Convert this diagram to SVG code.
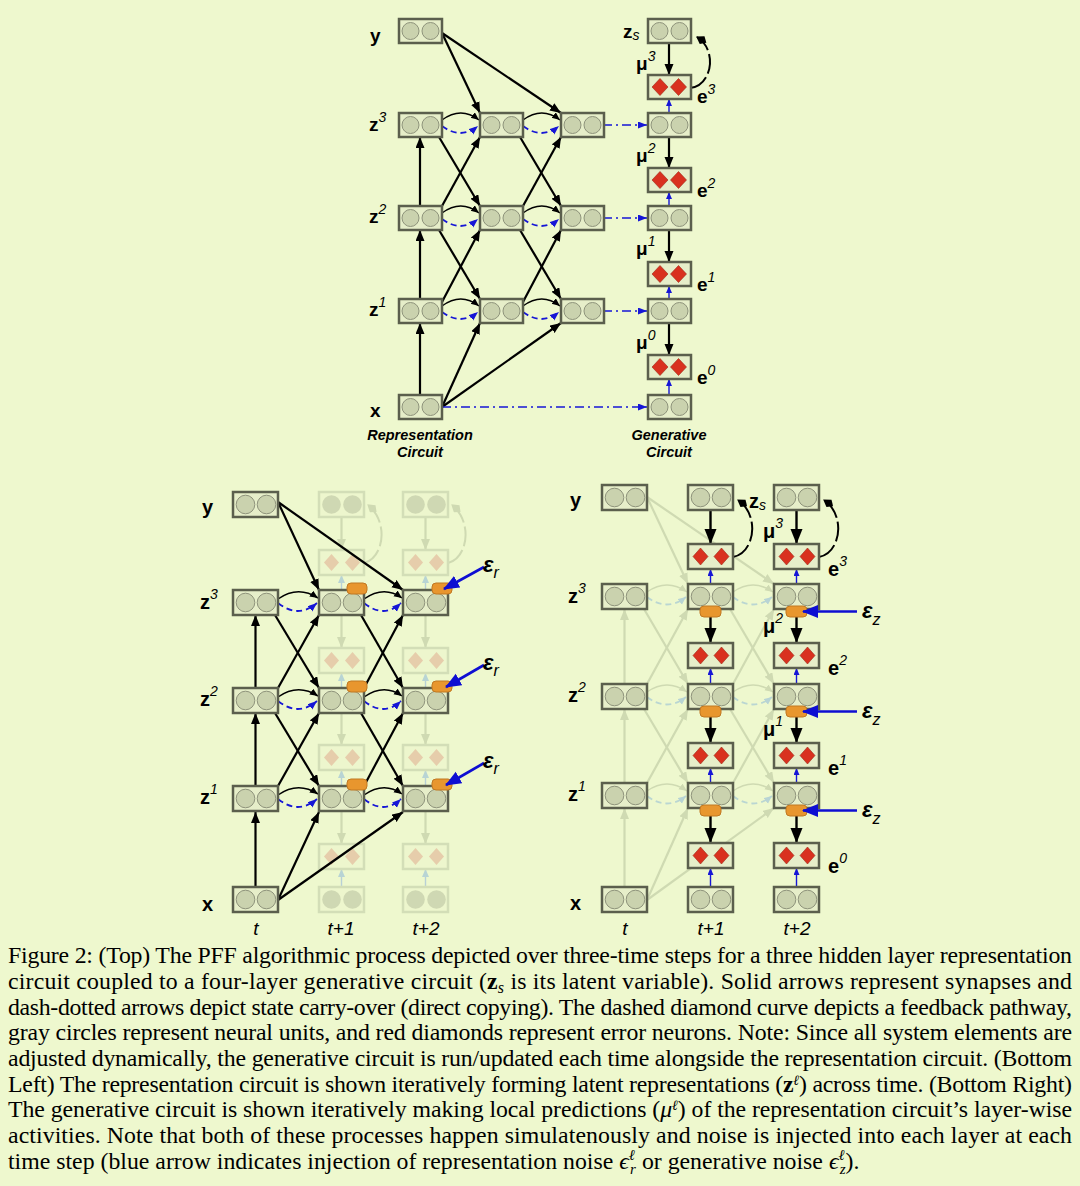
<svg xmlns="http://www.w3.org/2000/svg" width="1080" height="1186" viewBox="0 0 1080 1186">
<style>
.bx{fill:#E6EEC9;stroke:#5B5F4D;stroke-width:2.5}
.cu{fill:#CAD2AE;stroke:#8E937B;stroke-width:1}
.dm{fill:#D9311F;stroke:#9E2A18;stroke-width:0.6}
.fbx{fill:#EDF6CD;stroke:#D3DEB7;stroke-width:2.5}
.fcu{fill:#CFD8B3}
.fdm{fill:#E6CDAB}
.pad{fill:#E8962E;stroke:#C07822;stroke-width:1}
.ar{stroke:#000;stroke-width:2.2;fill:none;marker-end:url(#ah)}
.arB{stroke:#000;stroke-width:2.4;fill:none;marker-end:url(#ahB)}
.ab{stroke:#1616D6;stroke-width:1.4;fill:none;marker-end:url(#abs)}
.dd{stroke:#1616D6;stroke-width:1.6;fill:none;stroke-dasharray:9 4 2 4;marker-end:url(#abd)}
.cs{stroke:#000;stroke-width:1.5;fill:none;marker-end:url(#ahs)}
.cd{stroke:#1616D6;stroke-width:1.8;fill:none;stroke-dasharray:6 4;marker-end:url(#abd)}
.fb{stroke:#000;stroke-width:2;fill:none;stroke-dasharray:20 4;marker-end:url(#dia)}
.nz{stroke:#0E0ED2;stroke-width:2.6;fill:none;marker-end:url(#abig)}
.fa{stroke:#CFDAB2;stroke-width:2.2;fill:none;marker-end:url(#fah)}
.fcs{stroke:#CFDAB2;stroke-width:1.5;fill:none;marker-end:url(#fahs)}
.fcd{stroke:#BAD6D2;stroke-width:1.8;fill:none;stroke-dasharray:6 4;marker-end:url(#fabs)}
.fab{stroke:#B8D0D6;stroke-width:1.4;fill:none;marker-end:url(#fabs)}
.ffb{stroke:#CFDAB2;stroke-width:2;fill:none;stroke-dasharray:20 4;marker-end:url(#fdia)}
.lb{font-family:"Liberation Sans",Arial,sans-serif;font-weight:700;font-size:19px;fill:#000}
.lbB{font-size:20px}
.sp{font-style:italic;font-weight:400;font-size:14px}
.ci{font-family:"Liberation Sans",Arial,sans-serif;font-weight:700;font-style:italic;font-size:14.5px;text-anchor:middle}
.tm{font-family:"Liberation Sans",Arial,sans-serif;font-style:italic;font-size:19px;text-anchor:middle}
.eps{font-family:"Liberation Sans",Arial,sans-serif;font-weight:700;font-style:italic;font-size:22px}
.esb{font-weight:400;font-size:16px}
.cap{font-family:"Liberation Serif","DejaVu Serif",serif;font-size:23.8px;fill:#000}
</style>
<defs>
<marker id="ah" markerUnits="userSpaceOnUse" markerWidth="12" markerHeight="10" refX="11" refY="4.5" orient="auto"><path d="M0,0 L11,4.5 L0,9 z" fill="#000"/></marker>
<marker id="ahs" markerUnits="userSpaceOnUse" markerWidth="10" markerHeight="8" refX="8" refY="3.5" orient="auto"><path d="M0,0 L8,3.5 L0,7 z" fill="#000"/></marker>
<marker id="ahB" markerUnits="userSpaceOnUse" markerWidth="16" markerHeight="13" refX="15" refY="6" orient="auto"><path d="M0,0 L15,6 L0,12 z" fill="#000"/></marker>
<marker id="abs" markerUnits="userSpaceOnUse" markerWidth="8" markerHeight="7" refX="7" refY="3" orient="auto"><path d="M0,0 L7,3 L0,6 z" fill="#1616D6"/></marker>
<marker id="abd" markerUnits="userSpaceOnUse" markerWidth="10" markerHeight="8" refX="9" refY="3.5" orient="auto"><path d="M0,0 L9,3.5 L0,7 z" fill="#1616D6"/></marker>
<marker id="abig" markerUnits="userSpaceOnUse" markerWidth="17" markerHeight="14" refX="15" refY="6.5" orient="auto"><path d="M0,0 L16,6.5 L0,13 z" fill="#0E0ED2"/></marker>
<marker id="dia" markerUnits="userSpaceOnUse" markerWidth="13" markerHeight="10" refX="11" refY="4.5" orient="auto"><path d="M0,4.5 L5,0 L12,4.5 L5,9 z" fill="#000"/></marker>
<marker id="fah" markerUnits="userSpaceOnUse" markerWidth="12" markerHeight="10" refX="11" refY="4.5" orient="auto"><path d="M0,0 L11,4.5 L0,9 z" fill="#CFDAB2"/></marker>
<marker id="fahs" markerUnits="userSpaceOnUse" markerWidth="10" markerHeight="8" refX="8" refY="3.5" orient="auto"><path d="M0,0 L8,3.5 L0,7 z" fill="#CFDAB2"/></marker>
<marker id="fabs" markerUnits="userSpaceOnUse" markerWidth="10" markerHeight="8" refX="8" refY="3.5" orient="auto"><path d="M0,0 L8,3.5 L0,7 z" fill="#B8D4D4"/></marker>
<marker id="fdia" markerUnits="userSpaceOnUse" markerWidth="13" markerHeight="10" refX="11" refY="4.5" orient="auto"><path d="M0,4.5 L5,0 L12,4.5 L5,9 z" fill="#CFDAB2"/></marker>
<g id="uT"><rect width="43" height="24" class="bx"/><circle cx="11.5" cy="12" r="8.5" class="cu"/><circle cx="31.5" cy="12" r="8.5" class="cu"/></g>
<g id="eT"><rect width="43" height="24" class="bx"/><polygon points="12,3.5 20,12 12,20.5 4,12" class="dm"/><polygon points="30.5,3.5 38.5,12 30.5,20.5 22.5,12" class="dm"/></g>
<g id="uB"><rect width="45" height="25" class="bx"/><circle cx="12.5" cy="12.5" r="9.3" class="cu"/><circle cx="33.5" cy="12.5" r="9.3" class="cu"/></g>
<g id="eB"><rect width="45" height="25" class="bx"/><polygon points="12.5,4 20,12.5 12.5,21 5,12.5" class="dm"/><polygon points="33.5,4 41,12.5 33.5,21 26,12.5" class="dm"/></g>
<g id="fuB"><rect width="45" height="25" class="fbx"/><circle cx="12.5" cy="12.5" r="9.3" class="fcu"/><circle cx="33.5" cy="12.5" r="9.3" class="fcu"/></g>
<g id="feB"><rect width="45" height="25" class="fbx"/><polygon points="12.5,4 20,12.5 12.5,21 5,12.5" class="fdm"/><polygon points="33.5,4 41,12.5 33.5,21 26,12.5" class="fdm"/></g>
</defs>
<rect width="1080" height="1186" fill="#EEF8CE"/>

<g id="faded-connectors">
<path class="fa" d="M341.5,517 L341.5,550"/><path class="fa" d="M425.5,517 L425.5,550"/>
<path class="fa" d="M341.5,615 L341.5,648"/><path class="fa" d="M425.5,615 L425.5,648"/>
<path class="fa" d="M341.5,713 L341.5,745"/><path class="fa" d="M425.5,713 L425.5,745"/>
<path class="fa" d="M341.5,811 L341.5,844"/><path class="fa" d="M425.5,811 L425.5,844"/>
<path class="fab" d="M341.5,590 L341.5,575"/><path class="fab" d="M425.5,590 L425.5,575"/>
<path class="fab" d="M341.5,688 L341.5,673"/><path class="fab" d="M425.5,688 L425.5,673"/>
<path class="fab" d="M341.5,786 L341.5,770"/><path class="fab" d="M425.5,786 L425.5,770"/>
<path class="fab" d="M341.5,887 L341.5,869"/><path class="fab" d="M425.5,887 L425.5,869"/>
<path class="ffb" d="M364,563 C384,558 389,522 368,505"/><path class="ffb" d="M448,563 C468,558 473,522 452,505"/>

<path class="fa" d="M647,497 L688,584"/><path class="fa" d="M647,497 L774,584"/>
<path class="fa" d="M624.5,684 L624.5,609"/><path class="fa" d="M624.5,783 L624.5,709"/><path class="fa" d="M624.5,887 L624.5,808"/>
<path class="fa" d="M644,609 L688,684"/><path class="fa" d="M647,684 L688,609"/>
<path class="fa" d="M644,709 L688,783"/><path class="fa" d="M647,783 L688,709"/>
<path class="fa" d="M730,609 L774,684"/><path class="fa" d="M733,684 L774,609"/>
<path class="fa" d="M730,709 L774,783"/><path class="fa" d="M733,783 L774,709"/>
<path class="fa" d="M647,900 L688,808"/><path class="fa" d="M647,900 L774,808"/>
<path class="fcs" d="M647,592 Q667,578 687,592"/><path class="fcs" d="M733,592 Q753,578 773,592"/>
<path class="fcs" d="M647,692 Q667,678 687,692"/><path class="fcs" d="M733,692 Q753,678 773,692"/>
<path class="fcs" d="M647,791 Q667,777 687,791"/><path class="fcs" d="M733,791 Q753,777 773,791"/>
<path class="fcd" d="M647,597 Q667,612 686,597"/><path class="fcd" d="M733,597 Q753,612 772,597"/>
<path class="fcd" d="M647,697 Q667,712 686,697"/><path class="fcd" d="M733,697 Q753,712 772,697"/>
<path class="fcd" d="M647,796 Q667,811 686,796"/><path class="fcd" d="M733,796 Q753,811 772,796"/>
</g>

<g id="faded-nodes">
<g id="bl-f-top2"><use href="#fuB" x="319" y="492"/></g><g id="bl-f-top3"><use href="#fuB" x="403" y="492"/></g>
<g id="bl-f-e3-2"><use href="#feB" x="319" y="550"/></g><g id="bl-f-e3-3"><use href="#feB" x="403" y="550"/></g>
<g id="bl-f-e2-2"><use href="#feB" x="319" y="648"/></g><g id="bl-f-e2-3"><use href="#feB" x="403" y="648"/></g>
<g id="bl-f-e1-2"><use href="#feB" x="319" y="745"/></g><g id="bl-f-e1-3"><use href="#feB" x="403" y="745"/></g>
<g id="bl-f-e0-2"><use href="#feB" x="319" y="844"/></g><g id="bl-f-e0-3"><use href="#feB" x="403" y="844"/></g>
<g id="bl-f-x2"><use href="#fuB" x="319" y="887"/></g><g id="bl-f-x3"><use href="#fuB" x="403" y="887"/></g>
</g>

<g id="connectors">
<path class="ar" d="M442,33 L480,113"/><path class="ar" d="M442,33 L561,113"/>
<path class="ar" d="M420,206 L420,137"/><path class="ar" d="M420,299 L420,230"/><path class="ar" d="M420,395 L420,323"/>
<path class="ar" d="M439,137 L480,206"/><path class="ar" d="M442,206 L480,137"/>
<path class="ar" d="M439,230 L480,299"/><path class="ar" d="M442,302 L480,230"/>
<path class="ar" d="M520,137 L561,206"/><path class="ar" d="M523,206 L561,137"/>
<path class="ar" d="M520,230 L561,299"/><path class="ar" d="M523,302 L561,230"/>
<path class="ar" d="M442,407 L480,323"/><path class="ar" d="M442,407 L561,323"/>
<path class="cs" d="M442,120 Q461,106 479,120"/><path class="cs" d="M523,120 Q542,106 560,120"/>
<path class="cs" d="M442,213 Q461,199 479,213"/><path class="cs" d="M523,213 Q542,199 560,213"/>
<path class="cs" d="M442,306 Q461,292 479,306"/><path class="cs" d="M523,306 Q542,292 560,306"/>
<path class="cd" d="M442,126 Q461,140 478,126"/><path class="cd" d="M523,126 Q542,140 559,126"/>
<path class="cd" d="M442,219 Q461,233 478,219"/><path class="cd" d="M523,219 Q542,233 559,219"/>
<path class="cd" d="M442,312 Q461,326 478,312"/><path class="cd" d="M523,312 Q542,326 559,312"/>
<path class="dd" d="M603,125 L647,125"/><path class="dd" d="M603,218 L647,218"/><path class="dd" d="M603,311 L647,311"/><path class="dd" d="M442,407 L647,407"/>
<path class="ar" d="M669,43 L669,75"/><path class="ar" d="M669,137 L669,168"/><path class="ar" d="M669,230 L669,262"/><path class="ar" d="M669,323 L669,355"/>
<path class="ab" d="M669,113 L669,99"/><path class="ab" d="M669,206 L669,192"/><path class="ab" d="M669,299 L669,286"/><path class="ab" d="M669,395 L669,379"/>
<path class="fb" d="M690,88 C712,86 718,50 697,37"/>
<path class="ar" d="M278,502 L319,590"/><path class="ar" d="M278,502 L403,590"/>
<path class="ar" d="M255.5,688 L255.5,615"/><path class="ar" d="M255.5,786 L255.5,713"/><path class="ar" d="M255.5,887 L255.5,812"/>
<path class="ar" d="M275,615 L319,688"/><path class="ar" d="M278,688 L319,615"/>
<path class="ar" d="M275,713 L319,786"/><path class="ar" d="M278,786 L319,713"/>
<path class="ar" d="M361,615 L403,688"/><path class="ar" d="M364,688 L403,615"/>
<path class="ar" d="M361,713 L403,786"/><path class="ar" d="M364,786 L403,713"/>
<path class="ar" d="M278,900 L319,812"/><path class="ar" d="M278,900 L403,812"/>
<path class="cs" d="M278,599 Q298,585 318,598"/><path class="cs" d="M364,599 Q384,585 402,598"/>
<path class="cs" d="M278,697 Q298,683 318,696"/><path class="cs" d="M364,697 Q384,683 402,696"/>
<path class="cs" d="M278,795 Q298,781 318,794"/><path class="cs" d="M364,795 Q384,781 402,794"/>
<path class="cd" d="M278,603 Q298,619 317,603"/><path class="cd" d="M364,603 Q384,619 401,603"/>
<path class="cd" d="M278,701 Q298,717 317,701"/><path class="cd" d="M364,701 Q384,717 401,701"/>
<path class="cd" d="M278,799 Q298,815 317,799"/><path class="cd" d="M364,799 Q384,815 401,799"/>
<path class="arB" d="M710.5,510 L710.5,544"/><path class="arB" d="M796.5,510 L796.5,544"/>
<path class="arB" d="M710.5,617 L710.5,643"/><path class="arB" d="M796.5,617 L796.5,643"/>
<path class="arB" d="M710.5,717 L710.5,743"/><path class="arB" d="M796.5,717 L796.5,743"/>
<path class="arB" d="M710.5,816 L710.5,843"/><path class="arB" d="M796.5,816 L796.5,843"/>
<path class="ab" d="M710.5,584 L710.5,569"/><path class="ab" d="M796.5,584 L796.5,569"/>
<path class="ab" d="M710.5,684 L710.5,668"/><path class="ab" d="M796.5,684 L796.5,668"/>
<path class="ab" d="M710.5,783 L710.5,768"/><path class="ab" d="M796.5,783 L796.5,768"/>
<path class="ab" d="M710.5,887 L710.5,868"/><path class="ab" d="M796.5,887 L796.5,868"/>
<path class="fb" d="M733,557 C755,553 760,515 738,500"/><path class="fb" d="M819,557 C841,553 846,515 824,500"/>
</g>

<g id="nodes">
<g id="top-y"><use href="#uT" x="399" y="19"/></g>
<g id="top-z3-t0"><use href="#uT" x="399" y="113"/></g><g id="top-z3-t1"><use href="#uT" x="480" y="113"/></g><g id="top-z3-t2"><use href="#uT" x="561" y="113"/></g>
<g id="top-z2-t0"><use href="#uT" x="399" y="206"/></g><g id="top-z2-t1"><use href="#uT" x="480" y="206"/></g><g id="top-z2-t2"><use href="#uT" x="561" y="206"/></g>
<g id="top-z1-t0"><use href="#uT" x="399" y="299"/></g><g id="top-z1-t1"><use href="#uT" x="480" y="299"/></g><g id="top-z1-t2"><use href="#uT" x="561" y="299"/></g>
<g id="top-x"><use href="#uT" x="399" y="395"/></g>
<g id="top-zs"><use href="#uT" x="648" y="19"/></g>
<g id="top-e3"><use href="#eT" x="648" y="75"/></g>
<g id="top-g3"><use href="#uT" x="648" y="113"/></g>
<g id="top-e2"><use href="#eT" x="648" y="168"/></g>
<g id="top-g2"><use href="#uT" x="648" y="206"/></g>
<g id="top-e1"><use href="#eT" x="648" y="262"/></g>
<g id="top-g1"><use href="#uT" x="648" y="299"/></g>
<g id="top-e0"><use href="#eT" x="648" y="355"/></g>
<g id="top-g0"><use href="#uT" x="648" y="395"/></g>

<g id="bl-y"><use href="#uB" x="233" y="492"/></g>
<g id="bl-z3-t"><use href="#uB" x="233" y="590"/></g>
<g id="bl-z3-t1"><use href="#uB" x="319" y="590"/><rect class="pad" x="347" y="583" width="20" height="11" rx="4"/></g>
<g id="bl-z3-t2"><use href="#uB" x="403" y="590"/><rect class="pad" x="432" y="583" width="20" height="11" rx="4"/></g>
<g id="bl-z2-t"><use href="#uB" x="233" y="688"/></g>
<g id="bl-z2-t1"><use href="#uB" x="319" y="688"/><rect class="pad" x="347" y="681" width="20" height="11" rx="4"/></g>
<g id="bl-z2-t2"><use href="#uB" x="403" y="688"/><rect class="pad" x="432" y="681" width="20" height="11" rx="4"/></g>
<g id="bl-z1-t"><use href="#uB" x="233" y="786"/></g>
<g id="bl-z1-t1"><use href="#uB" x="319" y="786"/><rect class="pad" x="347" y="779" width="20" height="11" rx="4"/></g>
<g id="bl-z1-t2"><use href="#uB" x="403" y="786"/><rect class="pad" x="432" y="779" width="20" height="11" rx="4"/></g>
<g id="bl-x"><use href="#uB" x="233" y="887"/></g>

<g id="br-y"><use href="#uB" x="602" y="485"/></g>
<g id="br-z3-t"><use href="#uB" x="602" y="584"/></g>
<g id="br-z2-t"><use href="#uB" x="602" y="684"/></g>
<g id="br-z1-t"><use href="#uB" x="602" y="783"/></g>
<g id="br-x-t"><use href="#uB" x="602" y="887"/></g>
<g id="br-zs-t1"><use href="#uB" x="688" y="485"/></g><g id="br-zs-t2"><use href="#uB" x="774" y="485"/></g>
<g id="br-e3-t1"><use href="#eB" x="688" y="544"/></g><g id="br-e3-t2"><use href="#eB" x="774" y="544"/></g>
<g id="br-z3-t1"><use href="#uB" x="688" y="584"/><rect class="pad" x="700" y="606" width="21" height="11" rx="4"/></g>
<g id="br-z3-t2"><use href="#uB" x="774" y="584"/><rect class="pad" x="786" y="606" width="21" height="11" rx="4"/></g>
<g id="br-e2-t1"><use href="#eB" x="688" y="643"/></g><g id="br-e2-t2"><use href="#eB" x="774" y="643"/></g>
<g id="br-z2-t1"><use href="#uB" x="688" y="684"/><rect class="pad" x="700" y="706" width="21" height="11" rx="4"/></g>
<g id="br-z2-t2"><use href="#uB" x="774" y="684"/><rect class="pad" x="786" y="706" width="21" height="11" rx="4"/></g>
<g id="br-e1-t1"><use href="#eB" x="688" y="743"/></g><g id="br-e1-t2"><use href="#eB" x="774" y="743"/></g>
<g id="br-z1-t1"><use href="#uB" x="688" y="783"/><rect class="pad" x="700" y="805" width="21" height="11" rx="4"/></g>
<g id="br-z1-t2"><use href="#uB" x="774" y="783"/><rect class="pad" x="786" y="805" width="21" height="11" rx="4"/></g>
<g id="br-e0-t1"><use href="#eB" x="688" y="843"/></g><g id="br-e0-t2"><use href="#eB" x="774" y="843"/></g>
<g id="br-x-t1"><use href="#uB" x="688" y="887"/></g><g id="br-x-t2"><use href="#uB" x="774" y="887"/></g>
</g>

<g id="noise-connectors">
<path class="nz" d="M484,567 L444,589"/><path class="nz" d="M484,665 L446,687"/><path class="nz" d="M484,763 L446,785"/>
<path class="nz" d="M857,611.5 L803,611.5"/><path class="nz" d="M857,711.5 L803,711.5"/><path class="nz" d="M857,810.5 L803,810.5"/>
</g>

<g id="labels">
<text class="lb" x="370" y="42">y</text>
<text class="lb" x="369" y="131">z<tspan class="sp" dy="-9">3</tspan></text>
<text class="lb" x="369" y="223">z<tspan class="sp" dy="-9">2</tspan></text>
<text class="lb" x="369" y="316">z<tspan class="sp" dy="-9">1</tspan></text>
<text class="lb" x="370" y="417">x</text>
<text class="lb" x="623" y="38">z<tspan class="sp" dy="2">s</tspan></text>
<text class="lb" x="636" y="70">μ<tspan class="sp" dy="-9">3</tspan></text>
<text class="lb" x="636" y="162">μ<tspan class="sp" dy="-9">2</tspan></text>
<text class="lb" x="636" y="255">μ<tspan class="sp" dy="-9">1</tspan></text>
<text class="lb" x="636" y="349">μ<tspan class="sp" dy="-9">0</tspan></text>
<text class="lb" x="697" y="103">e<tspan class="sp" dy="-9">3</tspan></text>
<text class="lb" x="697" y="197">e<tspan class="sp" dy="-9">2</tspan></text>
<text class="lb" x="697" y="291">e<tspan class="sp" dy="-9">1</tspan></text>
<text class="lb" x="697" y="384">e<tspan class="sp" dy="-9">0</tspan></text>
<text class="ci" x="420" y="440">Representation</text>
<text class="ci" x="420" y="457">Circuit</text>
<text class="ci" x="669" y="440">Generative</text>
<text class="ci" x="669" y="457">Circuit</text>

<text class="lb lbB" x="202" y="514">y</text>
<text class="lb lbB" x="200" y="609">z<tspan class="sp" dy="-10">3</tspan></text>
<text class="lb lbB" x="200" y="706">z<tspan class="sp" dy="-10">2</tspan></text>
<text class="lb lbB" x="200" y="804">z<tspan class="sp" dy="-10">1</tspan></text>
<text class="lb lbB" x="202" y="911">x</text>
<text class="eps" x="483" y="572">ε<tspan class="esb" dy="6">r</tspan></text>
<text class="eps" x="483" y="670">ε<tspan class="esb" dy="6">r</tspan></text>
<text class="eps" x="483" y="768">ε<tspan class="esb" dy="6">r</tspan></text>
<text class="tm" x="256" y="935">t</text>
<text class="tm" x="341" y="935">t+1</text>
<text class="tm" x="426" y="935">t+2</text>

<text class="lb lbB" x="570" y="507">y</text>
<text class="lb lbB" x="568" y="603">z<tspan class="sp" dy="-10">3</tspan></text>
<text class="lb lbB" x="568" y="702">z<tspan class="sp" dy="-10">2</tspan></text>
<text class="lb lbB" x="568" y="801">z<tspan class="sp" dy="-10">1</tspan></text>
<text class="lb lbB" x="570" y="910">x</text>
<text class="lb lbB" x="749" y="508">z<tspan class="sp" dy="2">s</tspan></text>
<text class="lb lbB" x="763" y="538">μ<tspan class="sp" dy="-10">3</tspan></text>
<text class="lb lbB" x="763" y="633">μ<tspan class="sp" dy="-10">2</tspan></text>
<text class="lb lbB" x="763" y="736">μ<tspan class="sp" dy="-10">1</tspan></text>
<text class="lb lbB" x="828" y="576">e<tspan class="sp" dy="-10">3</tspan></text>
<text class="lb lbB" x="828" y="675">e<tspan class="sp" dy="-10">2</tspan></text>
<text class="lb lbB" x="828" y="775">e<tspan class="sp" dy="-10">1</tspan></text>
<text class="lb lbB" x="828" y="873">e<tspan class="sp" dy="-10">0</tspan></text>
<text class="eps" x="862" y="618">ε<tspan class="esb" dy="7">z</tspan></text>
<text class="eps" x="862" y="718">ε<tspan class="esb" dy="7">z</tspan></text>
<text class="eps" x="862" y="817">ε<tspan class="esb" dy="7">z</tspan></text>
<text class="tm" x="625" y="935">t</text>
<text class="tm" x="711" y="935">t+1</text>
<text class="tm" x="797" y="935">t+2</text>
</g>

<g id="caption">
<text class="cap" x="8" y="963" textLength="1064" lengthAdjust="spacing">Figure 2: (Top) The PFF algorithmic process depicted over three-time steps for a three hidden layer representation</text>
<text class="cap" x="8" y="989" textLength="1064" lengthAdjust="spacing">circuit coupled to a four-layer generative circuit (<tspan font-weight="bold">z</tspan><tspan font-style="italic" font-size="16" dy="4">s</tspan><tspan dy="-4"> is its latent variable). Solid arrows represent synapses and</tspan></text>
<text class="cap" x="8" y="1015" textLength="1064" lengthAdjust="spacing">dash-dotted arrows depict state carry-over (direct copying). The dashed diamond curve depicts a feedback pathway,</text>
<text class="cap" x="8" y="1040" textLength="1064" lengthAdjust="spacing">gray circles represent neural units, and red diamonds represent error neurons. Note: Since all system elements are</text>
<text class="cap" x="8" y="1066" textLength="1064" lengthAdjust="spacing">adjusted dynamically, the generative circuit is run/updated each time alongside the representation circuit. (Bottom</text>
<text class="cap" x="8" y="1092" textLength="1064" lengthAdjust="spacing">Left) The representation circuit is shown iteratively forming latent representations (<tspan font-weight="bold">z</tspan><tspan font-size="14" font-style="italic" dy="-7">ℓ</tspan><tspan dy="7">) across time. (Bottom Right)</tspan></text>
<text class="cap" x="8" y="1117" textLength="1064" lengthAdjust="spacing">The generative circuit is shown iteratively making local predictions (<tspan font-style="italic">μ</tspan><tspan font-size="14" font-style="italic" dy="-7">ℓ</tspan><tspan dy="7">) of the representation circuit’s layer-wise</tspan></text>
<text class="cap" x="8" y="1143" textLength="1064" lengthAdjust="spacing">activities. Note that both of these processes happen simulatenously and noise is injected into each layer at each</text>
<text class="cap" x="8" y="1169">time step (blue arrow indicates injection of representation noise <tspan font-style="italic">ϵ</tspan><tspan font-size="15" font-style="italic" dy="-9">ℓ</tspan><tspan font-size="15" font-style="italic" dx="-5" dy="14">r</tspan><tspan dy="-5"> or generative noise </tspan><tspan font-style="italic">ϵ</tspan><tspan font-size="15" font-style="italic" dy="-9">ℓ</tspan><tspan font-size="15" font-style="italic" dx="-5" dy="14">z</tspan><tspan dy="-5">).</tspan></text>
</g>
</svg>
